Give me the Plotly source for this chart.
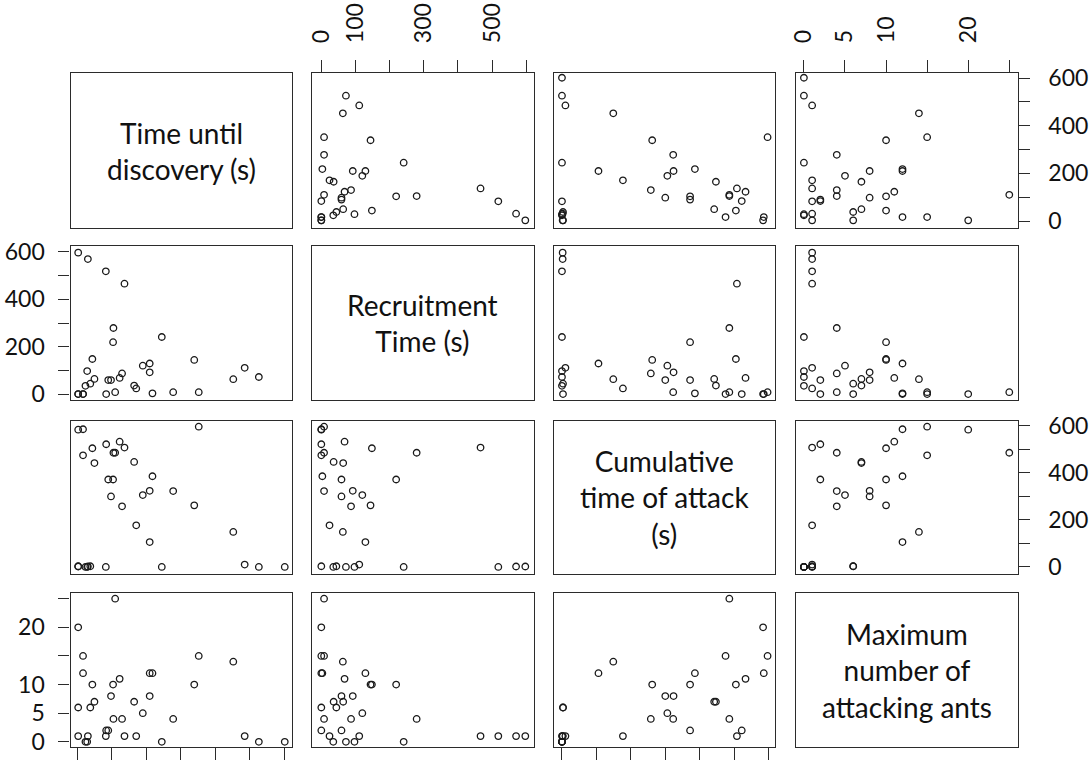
import plotly.graph_objects as go

# ---- data (one observation per index; None = not recorded) ----
var_labels = ["Time until<br>discovery (s)", "Recruitment<br>Time (s)",
              "Cumulative<br>time of attack<br>(s)", "Maximum<br>number of<br>attacking ants"]

discovery = [601, 526, 485, 452, 339, 352, 278, 245, 210, 210,
             218, 190, 171, 165, 130, 137, 123, 98, 104, 90,
             105, 110, 84, 83, 50, 44, 17, 17, 3, 38,
             3, 3, 31, 29, 24]
recruitment = [None, 72, 111, 63, 144, 8, 8, 241, 129, 92,
               3, 120, 24, 36, 87, 466, 68, 59, 219, 59,
               279, 8, 0, 518, 64, 148, 0, 0, 0, 44,
               0, 597, 570, 97, 35]
cumulative = [0, 0, 10, 149, 262, 597, 323, 0, 106, 324,
              386, 306, 177, 447, 258, 508, 533, 300, 372, 372,
              486, 486, 522, 0, 442, 505, 475, 586, 584, 3,
              3, 2, 2, 0, 0]
ants = [0, 0, 1, 14, 10, 15, 4, 0, 12, 8,
        12, 5, 1, 7, 4, 1, 11, 8, 10, 2,
        4, 25, 2, 1, 7, 10, 15, 12, 20, 6,
        6, 1, 1, 0, 0]

variables = [discovery, recruitment, cumulative, ants]

time_ticks = [0, 100, 200, 300, 400, 500, 600]
ant_ticks = [0, 5, 10, 15, 20, 25]
ticks_for = [time_ticks, time_ticks, time_ticks, ant_ticks]
top_labels = {1: ["0", "100", "", "300", "", "500", ""], 3: ["0", "5", "10", "", "20", ""]}
side_labels_time = ["0", "", "200", "", "400", "", "600"]
side_labels_ants = ["0", "5", "10", "", "20", ""]

# ---- layout geometry ----
W, H = 1091, 761
col_px = [(70.6, 292.0), (312.1, 533.5), (553.7, 774.8), (795.7, 1017.5)]
row_px = [(73, 228), (246, 400), (421, 574), (593, 747)]
x_ranges = [[-19, 622], [-27, 621], [-24, 618], [-1.0, 26.0]]
y_ranges = [[-29, 621], [-25, 625], [-30, 621], [-0.9, 26.0]]

FONT = "Lato, 'Open Sans', sans-serif"
LINE = "#2b2b2b"

fig = go.Figure()
layout = dict(width=W, height=H, margin=dict(l=0, r=0, t=0, b=0, autoexpand=False),
              paper_bgcolor="white", plot_bgcolor="white", showlegend=False,
              font=dict(family=FONT, size=23, color="#111"))
annotations = []

for r in range(4):
    for c in range(4):
        k = r * 4 + c + 1
        xa = "xaxis" if k == 1 else f"xaxis{k}"
        ya = "yaxis" if k == 1 else f"yaxis{k}"
        xref = "x" if k == 1 else f"x{k}"
        yref = "y" if k == 1 else f"y{k}"
        x0, x1 = col_px[c]
        y0, y1 = row_px[r]
        xd = dict(domain=[x0 / W, x1 / W], range=x_ranges[c], anchor=yref,
                  showgrid=False, zeroline=False, showline=True, mirror=True,
                  linecolor=LINE, linewidth=1.4, ticks="", showticklabels=False,
                  fixedrange=True, automargin=False)
        yd = dict(domain=[1 - y1 / H, 1 - y0 / H], range=y_ranges[r], anchor=xref,
                  showgrid=False, zeroline=False, showline=True, mirror=True,
                  linecolor=LINE, linewidth=1.4, ticks="", showticklabels=False,
                  fixedrange=True, automargin=False)
        if r == 0 and c in (1, 3):
            xd.update(side="top", ticks="outside", ticklen=12, tickwidth=1.4, tickcolor=LINE,
                      tickvals=ticks_for[c], ticktext=top_labels[c], showticklabels=True,
                      tickangle=-90, ticklabelstandoff=12)
        if r == 3 and c in (0, 2):
            xd.update(side="bottom", ticks="outside", ticklen=12, tickwidth=1.4, tickcolor=LINE,
                      tickvals=ticks_for[c])
        if (c == 0 and r in (1, 3)) or (c == 3 and r in (0, 2)):
            lab = side_labels_ants if r == 3 else side_labels_time
            yd.update(side="left" if c == 0 else "right", ticks="outside", ticklen=11,
                      tickwidth=1.4, tickcolor=LINE, tickvals=ticks_for[r], ticktext=lab,
                      showticklabels=True, ticklabelstandoff=9 if c == 0 else 14)
        layout[xa] = xd
        layout[ya] = yd
        if r == c:
            annotations.append(dict(text=var_labels[r], xref=f"{xref} domain", yref=f"{yref} domain",
                                    x=0.5, y=0.5, xanchor="center", yanchor="middle",
                                    showarrow=False, font=dict(family=FONT, size=28, color="#111")))
            fig.add_trace(go.Scatter(x=[], y=[], xaxis=xref, yaxis=yref, mode="markers"))
        else:
            xs = variables[c]
            ys = variables[r]
            fig.add_trace(go.Scatter(
                x=xs, y=ys, xaxis=xref, yaxis=yref, mode="markers", hoverinfo="skip",
                marker=dict(symbol="circle-open", size=6.5, color="#1a1a1a",
                            line=dict(width=1.3, color="#1a1a1a"))))

layout["annotations"] = annotations
fig.update_layout(**layout)
fig.write_html("out.html", config={"displayModeBar": False},
               post_script="document.body.style.margin='0px';document.body.style.overflow='hidden';")
